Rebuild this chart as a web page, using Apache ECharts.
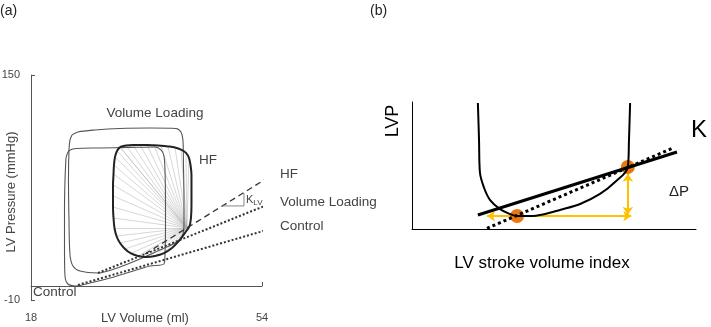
<!DOCTYPE html>
<html><head><meta charset="utf-8">
<script src="https://cdn.jsdelivr.net/npm/echarts@6/dist/echarts.min.js"></script>
<style>html,body{margin:0;padding:0;background:#fff}#c{width:711px;height:327px}</style>
</head><body><div id="c"></div>
<script>
// ---------- Panel (a): PV loops (LV Volume ml, LV Pressure mmHg) ----------
const volumeTicks = [18, 54];
const pressureTicks = [-10, 150];

const controlLoop = [[23.45,91.0],[23.92,96.0],[25.01,97.7],[28.75,98.1],[33.42,98.5],[37.32,98.8],[38.26,96.7],[38.72,92.4],[38.88,82.5],[38.96,61.1],[38.96,39.8],[38.88,22.0],[38.72,15.6],[36.54,14.2],[33.42,9.9],[30.31,5.6],[27.19,2.1],[25.01,0.0],[23.76,1.4],[23.30,7.1],[23.22,25.6],[23.22,54.0],[23.30,75.3],[23.45,91.0]];

const volumeLoadingLoop = [[24.39,107.4],[24.08,103.8],[23.92,96.7],[23.84,75.3],[23.92,46.9],[24.08,22.0],[24.54,14.2],[25.63,10.6],[28.44,9.2],[31.87,13.5],[34.98,19.2],[38.10,25.6],[40.43,30.5],[41.52,34.8],[41.84,43.3],[41.84,61.1],[41.76,86.0],[41.68,103.8],[41.37,109.5],[40.59,112.0],[36.54,112.3],[31.87,112.0],[27.97,110.9],[25.32,109.5],[24.39,107.4]];

const hfLoop = [[31.87,98.8],[32.80,99.9],[33.90,100.2],[34.99,100.2],[36.08,100.2],[37.17,100.0],[38.26,99.7],[39.35,99.2],[40.44,98.5],[41.38,97.0],[42.16,94.6],[42.62,91.0],[42.86,86.0],[43.01,78.9],[43.01,68.2],[43.01,57.6],[42.93,48.3],[42.70,42.6],[42.00,37.7],[41.06,32.0],[39.97,27.0],[38.73,23.4],[37.32,21.3],[35.92,20.6],[34.67,21.3],[33.58,23.1],[32.65,26.3],[31.87,30.5],[31.32,35.5],[31.01,41.2],[30.86,48.3],[30.78,56.1],[30.78,64.0],[30.78,71.8],[30.86,79.6],[30.93,86.0],[31.09,91.7],[31.40,96.0],[31.87,98.8]];

const fanHub = [42.3, 41.2];

const edpvrControl = [[25.32,0.7],[56.33,41.9]];
const edpvrVolumeLoading = [[28.44,9.2],[56.33,60.4]];
const edpvrHF = [[35.76,22.7],[56.33,81.0]];
const klvTriangle = [[47.91,56.9],[51.19,56.9],[51.19,66.1]];

// ---------- Panel (b): schematic (arbitrary units 0-100) ----------
const uCurve = [[23.2,99.2],[23.6,70],[23.9,44.9],[25.4,32.3],[27.5,22.8],[31,15.7],[34.5,11.8],[37,10.2],[41.5,10.2],[46.8,11.8],[52.1,15],[59.2,19.7],[66.2,27.6],[71.5,37],[76,48.8],[76.4,70],[76.8,99.2]];
const solidLine = [[23.2,11],[93.3,60.6]];
const dottedLine = [[26.4,0.5],[91.9,63.8]];
const dots = [[37,10.2],[76,48.8]];
const hArrow = [[26.4,10.2],[77.2,10.2]];
const vArrow = [[76,43.5],[76,11.2]];

const FONT = "'Liberation Sans', Arial, sans-serif";
const TXT = '#444';

const fanData = hfLoop.filter((p, i) => i <= 11 || i >= 20).map(p => ({coords: [fanHub, p]}));

const chart = echarts.init(document.getElementById('c'), null, {renderer: 'canvas'});
const lineBase = {type: 'line', showSymbol: false, symbol: 'none', silent: true, animation: false};

chart.setOption({
  animation: false,
  textStyle: {fontFamily: FONT},
  grid: [
    {left: 31, top: 75, width: 231, height: 225, containLabel: false, outerBoundsMode: 'none'},
    {left: 412, top: 102, width: 284, height: 127, containLabel: false, outerBoundsMode: 'none'}
  ],
  xAxis: [
    {gridIndex: 0, type: 'value', min: volumeTicks[0], max: volumeTicks[1], interval: volumeTicks[1]-volumeTicks[0],
     axisLine: {lineStyle: {color: '#555', width: 1}}, axisTick: {show: true, inside: true, length: 4, lineStyle: {color: '#555'}},
     splitLine: {show: false}, axisLabel: {margin: 12, color: TXT, fontSize: 11, fontFamily: FONT}},
    {gridIndex: 1, type: 'value', min: 0, max: 100,
     axisLine: {lineStyle: {color: '#000', width: 1}}, axisTick: {show: false}, axisLabel: {show: false}, splitLine: {show: false}}
  ],
  yAxis: [
    {gridIndex: 0, type: 'value', min: pressureTicks[0], max: pressureTicks[1], interval: pressureTicks[1]-pressureTicks[0],
     axisLine: {show: true, lineStyle: {color: '#555', width: 1}}, axisTick: {show: true, inside: true, length: 4, lineStyle: {color: '#555'}},
     splitLine: {show: false}, axisLabel: {margin: 11, color: TXT, fontSize: 11, fontFamily: FONT}},
    {gridIndex: 1, type: 'value', min: 0, max: 100,
     axisLine: {show: true, lineStyle: {color: '#000', width: 1}}, axisTick: {show: false}, axisLabel: {show: false}, splitLine: {show: false}}
  ],
  series: [
    {type: 'lines', coordinateSystem: 'cartesian2d', xAxisIndex: 0, yAxisIndex: 0, silent: true,
     lineStyle: {color: '#aaa', width: 0.6, opacity: 0.8}, data: fanData},
    Object.assign({}, lineBase, {xAxisIndex: 0, yAxisIndex: 0, data: controlLoop, smooth: 0.3, lineStyle: {color: '#555', width: 1.1}}),
    Object.assign({}, lineBase, {xAxisIndex: 0, yAxisIndex: 0, data: volumeLoadingLoop, smooth: 0.3, lineStyle: {color: '#555', width: 1.1}}),
    Object.assign({}, lineBase, {xAxisIndex: 0, yAxisIndex: 0, data: hfLoop, smooth: 0.3, lineStyle: {color: '#222', width: 2}}),
    Object.assign({}, lineBase, {xAxisIndex: 0, yAxisIndex: 0, data: edpvrControl, clip: false, lineStyle: {color: '#333', width: 2, type: [2, 2]}}),
    Object.assign({}, lineBase, {xAxisIndex: 0, yAxisIndex: 0, data: edpvrVolumeLoading, clip: false, lineStyle: {color: '#333', width: 2, type: [2, 2]}}),
    Object.assign({}, lineBase, {xAxisIndex: 0, yAxisIndex: 0, data: edpvrHF, clip: false, lineStyle: {color: '#333', width: 1.3, type: [6, 4]}}),
    Object.assign({}, lineBase, {xAxisIndex: 0, yAxisIndex: 0, data: klvTriangle, clip: false, lineStyle: {color: '#888', width: 1}}),

    Object.assign({}, lineBase, {xAxisIndex: 1, yAxisIndex: 1, data: uCurve, smooth: 0.35, lineStyle: {color: '#000', width: 2}}),
    Object.assign({}, lineBase, {xAxisIndex: 1, yAxisIndex: 1, data: solidLine, lineStyle: {color: '#000', width: 3}}),
    Object.assign({}, lineBase, {xAxisIndex: 1, yAxisIndex: 1, data: dottedLine, lineStyle: {color: '#000', width: 3, type: [3, 3]}}),
    {type: 'lines', coordinateSystem: 'cartesian2d', xAxisIndex: 1, yAxisIndex: 1, silent: true,
     symbol: ['arrow', 'arrow'], symbolSize: 8,
     lineStyle: {color: '#FFC000', width: 2, opacity: 1},
     data: [{coords: hArrow}, {coords: vArrow}]},
    {type: 'scatter', xAxisIndex: 1, yAxisIndex: 1, silent: true, data: dots, symbolSize: 14,
     itemStyle: {color: '#E8770E', opacity: 1}}
  ],
  graphic: [
    {type: 'text', left: 0, top: 4, style: {text: '(a)', font: '14px ' + FONT, fill: '#222'}},
    {type: 'text', left: 370, top: 4, style: {text: '(b)', font: '14px ' + FONT, fill: '#222'}},
    {type: 'text', x: 145, y: 318, style: {text: 'LV Volume (ml)', font: '13px ' + FONT, fill: TXT, align: 'center', verticalAlign: 'middle'}},
    {type: 'text', x: 11, y: 192, rotation: Math.PI / 2, style: {text: 'LV Pressure (mmHg)', font: '13px ' + FONT, fill: TXT, align: 'center', verticalAlign: 'middle'}},
    {type: 'text', x: 155, y: 113, style: {text: 'Volume Loading', font: '13.5px ' + FONT, fill: TXT, align: 'center', verticalAlign: 'middle'}},
    {type: 'text', x: 199, y: 160, style: {text: 'HF', font: '13.5px ' + FONT, fill: TXT, verticalAlign: 'middle'}},
    {type: 'text', x: 280, y: 174, style: {text: 'HF', font: '13.5px ' + FONT, fill: TXT, verticalAlign: 'middle'}},
    {type: 'text', x: 280, y: 202, style: {text: 'Volume Loading', font: '13.5px ' + FONT, fill: TXT, verticalAlign: 'middle'}},
    {type: 'text', x: 280, y: 226, style: {text: 'Control', font: '13.5px ' + FONT, fill: TXT, verticalAlign: 'middle'}},
    {type: 'text', x: 33, y: 292, style: {text: 'Control', font: '13.5px ' + FONT, fill: TXT, verticalAlign: 'middle'}},
    {type: 'text', x: 246, y: 200, style: {rich: {k: {fontSize: 11, fontFamily: FONT, fill: TXT}, s: {fontSize: 8, fontFamily: FONT, fill: TXT, padding: [6, 0, 0, 0]}}, text: '{k|K}{s|LV}', verticalAlign: 'middle'}},
    {type: 'text', x: 393, y: 121, rotation: Math.PI / 2, style: {text: 'LVP', font: '18px ' + FONT, fill: '#000', align: 'center', verticalAlign: 'middle'}},
    {type: 'text', x: 699, y: 130, style: {text: 'K', font: '24px ' + FONT, fill: '#000', align: 'center', verticalAlign: 'middle'}},
    {type: 'text', x: 679, y: 192, style: {text: 'ΔP', font: '15px ' + FONT, fill: '#222', align: 'center', verticalAlign: 'middle'}},
    {type: 'text', x: 542, y: 263, style: {text: 'LV stroke volume index', font: '17px ' + FONT, fill: '#000', align: 'center', verticalAlign: 'middle'}}
  ]
});
</script></body></html>
